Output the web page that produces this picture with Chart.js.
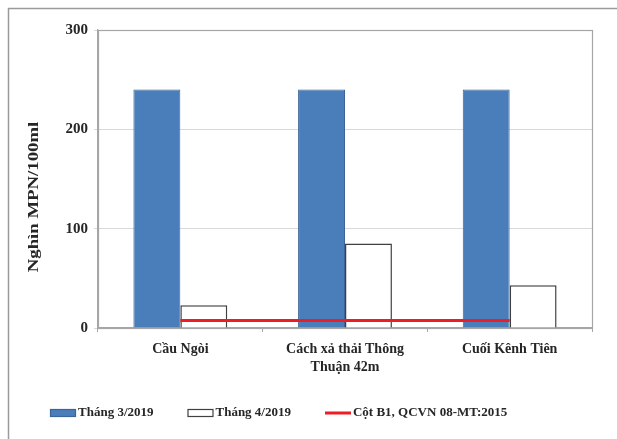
<!DOCTYPE html>
<html>
<head>
<meta charset="utf-8">
<script src="https://cdn.jsdelivr.net/npm/chart.js@4/dist/chart.umd.min.js"></script>
<style>
  html, body { margin: 0; padding: 0; background: #fff; }
  #wrap { width: 617px; height: 439px; }
</style>
</head>
<body>
<div id="wrap"><canvas id="c" width="617" height="439"></canvas></div>
<script>
// Sampling sites
const categories = ['Cầu Ngòi', ['Cách xả thải Thông', 'Thuận 42m'], 'Cuối Kênh Tiên'];
// Coliform, thousand MPN/100ml
const march2019 = [240, 240, 240];
const april2019 = [23, 85, 43];
// QCVN 08-MT:2015 column B1 limit (7,500 MPN/100ml)
const limitB1 = [7.5, 7.5, 7.5];
const yTicks = [0, 100, 200, 300];

const seriesNames = ['Tháng 3/2019', 'Tháng 4/2019', 'Cột B1, QCVN 08-MT:2015'];
const yTitle = 'Nghìn MPN/100ml';

const SERIF = '"Liberation Serif", "Times New Roman", serif';
const TEXT = '#262626';
const FRAME = '#a6a6a6';

// White background, outer frame, plot border
const framePlugin = {
  id: 'frame',
  beforeDraw(chart) {
    const ctx = chart.ctx;
    ctx.save();
    ctx.fillStyle = '#fff';
    ctx.fillRect(0, 0, chart.width, chart.height);
    ctx.strokeStyle = '#9a9a9a';
    ctx.lineWidth = 1.5;
    ctx.beginPath();
    ctx.moveTo(8.5, chart.height);
    ctx.lineTo(8.5, 8.5);
    ctx.lineTo(chart.width, 8.5);
    ctx.stroke();
    ctx.restore();
  },
  afterDatasetsDraw(chart) {
    const a = chart.chartArea;
    const ctx = chart.ctx;
    ctx.save();
    ctx.strokeStyle = FRAME;
    ctx.lineWidth = 1.2;
    ctx.strokeRect(Math.round(a.left) + 0.5, Math.round(a.top) + 0.5,
                   Math.round(a.right - a.left), Math.round(a.bottom - a.top));
    ctx.restore();
  }
};

// Rotated axis title and legend row
const textPlugin = {
  id: 'texts',
  afterDraw(chart) {
    const ctx = chart.ctx;
    const a = chart.chartArea;
    ctx.save();
    ctx.fillStyle = TEXT;
    ctx.font = 'bold 15px ' + SERIF;
    ctx.textAlign = 'center';
    ctx.textBaseline = 'middle';
    ctx.translate(34, (a.top + a.bottom) / 2 + 18);
    ctx.rotate(-Math.PI / 2);
    ctx.scale(1.25, 1);
    ctx.fillText(yTitle, 0, 0);
    ctx.restore();

    ctx.save();
    ctx.font = 'bold 13px ' + SERIF;
    ctx.textBaseline = 'middle';
    ctx.textAlign = 'left';
    const order = [1, 2, 0];
    let x = 50;
    const y = 413;
    order.forEach(i => {
      const ds = chart.data.datasets[i];
      if (ds.type === 'line') {
        ctx.strokeStyle = ds.borderColor;
        ctx.lineWidth = 3;
        ctx.beginPath();
        ctx.moveTo(x, y);
        ctx.lineTo(x + 26, y);
        ctx.stroke();
      } else {
        ctx.fillStyle = ds.backgroundColor;
        ctx.fillRect(x, y - 4, 26, 8);
        ctx.strokeStyle = ds.borderColor;
        ctx.lineWidth = 1.2;
        ctx.strokeRect(x + 0.5, y - 3.5, 25, 7);
      }
      ctx.fillStyle = TEXT;
      ctx.fillText(ds.label, x + 28, y);
      x += 28 + ctx.measureText(ds.label).width + 34;
    });
    ctx.restore();
  }
};

new Chart(document.getElementById('c'), {
  data: {
    labels: categories,
    datasets: [
      {
        type: 'line',
        label: seriesNames[2],
        data: limitB1,
        borderColor: '#ee1c25',
        borderWidth: 3,
        pointRadius: 0,
        fill: false,
        order: 0
      },
      {
        type: 'bar',
        label: seriesNames[0],
        data: march2019,
        backgroundColor: '#4a7ebb',
        borderColor: '#3b6598',
        borderWidth: 1,
        categoryPercentage: 0.57,
        barPercentage: 1,
        order: 1
      },
      {
        type: 'bar',
        label: seriesNames[1],
        data: april2019,
        backgroundColor: '#ffffff',
        borderColor: '#404040',
        borderWidth: 1.5,
        categoryPercentage: 0.57,
        barPercentage: 1,
        order: 1
      }
    ]
  },
  options: {
    responsive: false,
    animation: false,
    devicePixelRatio: 1,
    layout: { padding: { left: 8, right: 25, top: 30, bottom: 50 } },
    plugins: {
      legend: { display: false },
      tooltip: { enabled: false }
    },
    scales: {
      x: {
        offset: true,
        grid: {
          offset: true,
          drawOnChartArea: false,
          tickLength: 4,
          color: FRAME
        },
        border: { color: FRAME, width: 1.2 },
        ticks: {
          color: TEXT,
          padding: 8,
          maxRotation: 0,
          font: { family: SERIF, size: 14, weight: 'bold', lineHeight: 1.3 }
        },
        afterFit(scale) { scale.height = 61; }
      },
      y: {
        min: yTicks[0],
        max: yTicks[yTicks.length - 1],
        afterBuildTicks(scale) { scale.ticks = yTicks.map(v => ({ value: v })); },
        grid: {
          color: '#d9d9d9',
          tickLength: 4,
          lineWidth: 1
        },
        border: { color: FRAME, width: 1.2 },
        ticks: {
          color: TEXT,
          padding: 6,
          font: { family: SERIF, size: 15, weight: 'bold' }
        },
        afterFit(scale) { scale.width = 90; }
      }
    }
  },
  plugins: [framePlugin, textPlugin]
});
</script>
</body>
</html>
